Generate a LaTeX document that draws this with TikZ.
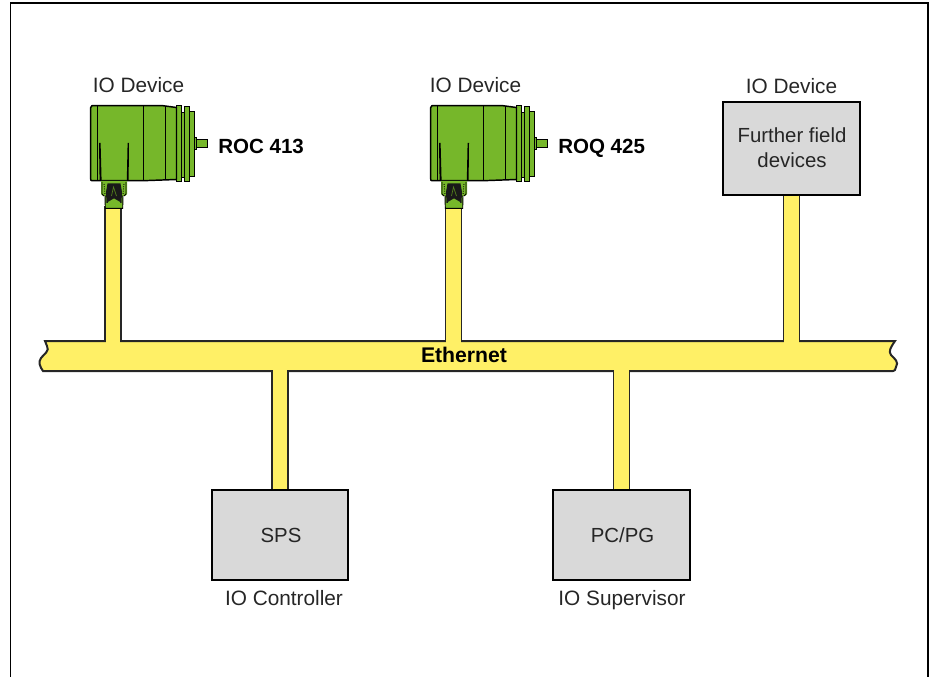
\documentclass[tikz,border=0pt]{standalone}
\usepackage{fontspec}
\setmainfont{Liberation Sans}
\definecolor{busyellow}{HTML}{FFF066}
\definecolor{encgreen}{HTML}{76B72A}
\definecolor{boxgrey}{HTML}{D9D9D9}
\definecolor{inkdark}{HTML}{262626}
\tikzset{
  lbl/.style={font=\fontsize{15.6}{18}\selectfont, text=inkdark, inner sep=0pt, anchor=base},
  blbl/.style={font=\fontsize{15.4}{18}\selectfont\bfseries, text=black, inner sep=0pt, anchor=base west},
  greybox/.style={draw=black, line width=0.8pt, fill=boxgrey},
  boxtext/.style={font=\fontsize{15.3}{18.6}\selectfont, text=inkdark, inner sep=0pt, anchor=base},
  pipeline/.style={draw=black!85, line width=13.4pt},
  pipefill/.style={draw=busyellow, line width=11.2pt},
  buspath/.style={line width=1.5pt, draw=black!85, fill=busyellow},
  enc/.style={draw=black, line width=1.1pt, fill=encgreen, line join=round},
  encf/.style={draw=black, line width=0.7pt, fill=encgreen},
  encl/.style={draw=black, line width=0.8pt},
  pics/encoder/.style={code={
    % shaft
    \path[encf] (196,139.3) rectangle (207.7,147.3);
    \path[encf] (194,137) rectangle (196,149);
    % rear flanges
    \path[encf] (189.3,111) rectangle (194,176);
    \path[encf] (184.3,106) rectangle (189.3,181.5);
    \path[encf] (181,112) rectangle (184.3,177);
    \path[encf] (176.5,105.7) rectangle (181,181);
    % body
    \path[enc] (92,105.7) -- (163,105.7) -- (176.5,107.5) -- (176.5,179.5) -- (143,180.7) -- (92,180.7)
       .. controls (90.7,180.7) and (90.7,180) .. (90.7,179) -- (90.7,107.5)
       .. controls (90.7,106.5) and (91,105.7) .. (92,105.7) -- cycle;
    \draw[encl] (97.3,105.7) -- (97.3,180.7);
    \draw[encl] (143.3,105.7) -- (143.3,180.7);
    \draw[encl] (165.7,106) -- (165.7,180);
    % slots
    \path[fill=black] (99,143) -- (100.6,143) -- (101.6,180.7) -- (99.6,180.7) -- cycle;
    \path[fill=black] (127.6,143) -- (129,143) -- (128.6,180.7) -- (126.8,180.7) -- cycle;
    % plug
    \path[fill=encgreen] (101,181) -- (127,181) -- (127,194) -- (125,196) -- (103,196) -- (101,194) -- cycle;
    \draw[black, line width=0.6pt] (102,182) -- (102,194) -- (104,196);
    \draw[black, line width=0.6pt] (126,182) -- (126,194) -- (124,196);
    \path[fill=encgreen, draw=black, line width=0.7pt] (105,196) -- (123,196) -- (122.7,208.3) -- (105.3,208.3) -- cycle;
    \path[fill=black!90] (107.5,183.5) -- (120.5,183.5) -- (122,192) -- (121.5,203) -- (106.5,203) -- (106,192) -- cycle;
    \path[fill=encgreen] (108,202) -- (114,198.5) -- (120,202) -- (120,203.5) -- (108,203.5) -- cycle;
    \draw[encgreen!70!black, line width=0.5pt] (111.5,196) -- (113.5,187) -- (116.5,196);
    \draw[black, line width=0.7pt, densely dotted] (104,184) -- (105,194);
    \draw[black, line width=0.7pt, densely dotted] (124,184) -- (123,194);
  }}
}
\begin{document}
\begin{tikzpicture}[x=0.75pt, y=-0.75pt]
\useasboundingbox (0,0) rectangle (934,677);
% frame
\coordinate (fbl) at (10.5,677);
\coordinate (ftl) at (10.5,3);
\coordinate (ftr) at (928,3);
\coordinate (fbr) at (928,677);
\draw[black, line width=0.8pt] (fbl) -- (ftl) -- (ftr) -- (fbr);
% bus
\path[buspath] (45,341) -- (895,341) .. controls (891,347) and (888,351) .. (891,355) .. controls (895,359) and (899,362) .. (896,367) .. controls (895,370) and (895,371) .. (893,371) -- (43,371) .. controls (40,367) and (38,362) .. (41,358) .. controls (44,354) and (50,351) .. (47,346) .. controls (46,344) and (46,343) .. (45,341) -- cycle;
\coordinate (bustop) at (0,341);
\coordinate (busbot) at (0,371);
\node[blbl, font=\fontsize{15.9}{18}\selectfont\bfseries, anchor=base] (ethernet) at (464,362) {Ethernet};
% device ends
\coordinate (dev1) at (113,206);
\coordinate (dev2) at (453.5,206);
% boxes
\node[greybox, minimum width=102.75pt, minimum height=69.75pt, inner sep=0pt] (field) at (791.5,148.5) {};
\node[greybox, minimum width=102pt, minimum height=67.5pt, inner sep=0pt] (sps) at (280,535) {};
\node[greybox, minimum width=102.75pt, minimum height=67.5pt, inner sep=0pt] (pc) at (621.5,535) {};
% pipes
\foreach \a in {dev1,dev2,field.south}{
  \draw[pipeline] (\a) -- (\a |- bustop);
  \draw[pipefill] (\a) -- ([yshift=-2pt]\a |- bustop);
}
\foreach \a in {sps.north,pc.north}{
  \draw[pipeline] (\a) -- (\a |- busbot);
  \draw[pipefill] (\a) -- ([yshift=2pt]\a |- busbot);
}
\node[boxtext] (ft1) at (792,143) {Further field};
\node[boxtext] (ft2) at (792,168) {devices};
\node[boxtext] (st) at (281,542) {SPS};
\node[boxtext] (pt) at (622.5,542) {PC/PG};
% encoders
\pic (enca) at (0,0) {encoder};
\pic (encb) at (340,0) {encoder};
% labels
\node[lbl] (l1) at (138.5,92.5) {IO Device};
\node[lbl] (l2) at (475.5,92.5) {IO Device};
\node[lbl] (l3) at (791.5,94) {IO Device};
\node[lbl] (l4) at (284,605) {IO Controller};
\node[lbl] (l5) at (622,605) {IO Supervisor};
\node[blbl] (roc) at (218,153.5) {ROC 413};
\node[blbl] (roq) at (558,153.5) {ROQ 425};
\end{tikzpicture}
\end{document}
